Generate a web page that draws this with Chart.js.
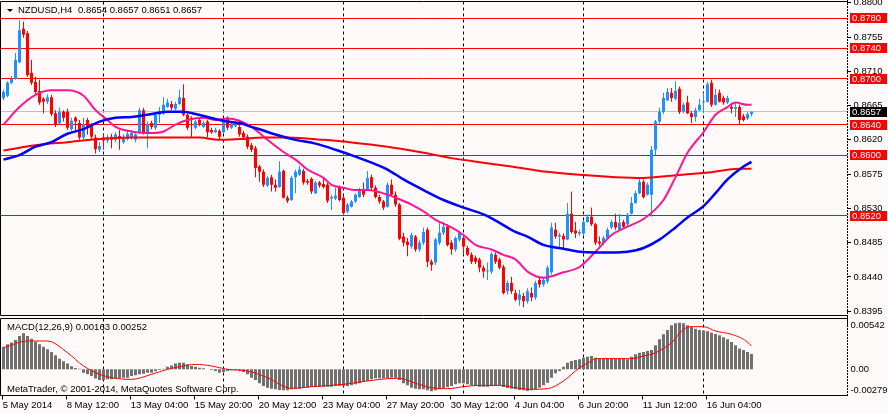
<!DOCTYPE html>
<html>
<head>
<meta charset="utf-8">
<script src="https://cdn.jsdelivr.net/npm/chart.js@4.4.1/dist/chart.umd.min.js"></script>
<style>
  html, body { margin: 0; padding: 0; background: #fffafa; overflow: hidden; }
  #wrap { position: relative; width: 888px; height: 414px; overflow: hidden; }
  canvas { position: absolute; left: 0; }
  #price { top: -10px; }
  #macd { top: 306px; }
</style>
</head>
<body>
<div id="wrap">
  <canvas id="price" width="888" height="336"></canvas>
  <canvas id="macd" width="888" height="108"></canvas>
</div>
<script>
// NZDUSD H4 candles, one entry per bar (bar 0 = 5 May 20:00)
var open = [
0.8675,0.8678,0.8695,0.8700,0.8722,0.8766,0.8760,0.8708,0.8696,0.8684,
0.8674,0.8670,0.8676,0.8655,0.8642,0.8657,0.8657,0.8634,0.8649,0.8642,
0.8623,0.8646,0.8640,0.8623,0.8607,0.8623,0.8619,0.8624,0.8620,0.8625,
0.8617,0.8621,0.8623,0.8620,0.8629,0.8659,0.8629,0.8642,0.8636,0.8653,
0.8655,0.8663,0.8667,0.8661,0.8667,0.8675,0.8653,0.8649,0.8636,0.8646,
0.8637,0.8644,0.8633,0.8630,0.8632,0.8630,0.8649,0.8636,0.8638,0.8637,
0.8629,0.8624,0.8613,0.8609,0.8585,0.8578,0.8560,0.8571,0.8561,0.8558,
0.8579,0.8544,0.8541,0.8571,0.8574,0.8579,0.8566,0.8569,0.8550,0.8564,
0.8562,0.8561,0.8543,0.8543,0.8557,0.8544,0.8526,0.8532,0.8539,0.8545,
0.8554,0.8554,0.8571,0.8557,0.8545,0.8539,0.8532,0.8561,0.8548,0.8535,
0.8493,0.8486,0.8480,0.8493,0.8476,0.8485,0.8502,0.8460,0.8459,0.8485,
0.8498,0.8506,0.8485,0.8476,0.8489,0.8491,0.8478,0.8469,0.8465,0.8463,
0.8452,0.8447,0.8447,0.8469,0.8463,0.8453,0.8421,0.8432,0.8419,0.8410,
0.8415,0.8408,0.8419,0.8413,0.8436,0.8430,0.8434,0.8446,0.8502,0.8493,
0.8494,0.8489,0.8523,0.8501,0.8497,0.8497,0.8512,0.8519,0.8509,0.8486,
0.8485,0.8491,0.8505,0.8512,0.8502,0.8512,0.8509,0.8523,0.8537,0.8550,
0.8565,0.8548,0.8548,0.8607,0.8644,0.8657,0.8672,0.8682,0.8674,0.8687,
0.8657,0.8669,0.8655,0.8650,0.8659,0.8669,0.8670,0.8695,0.8666,0.8682,
0.8675,0.8669,0.8663,0.8661,0.8663,0.8651,0.8648,0.8654];
var high = [
0.8686,0.8697,0.8704,0.8734,0.8777,0.8775,0.8763,0.8725,0.8703,0.8699,
0.8676,0.8680,0.8679,0.8659,0.8662,0.8659,0.8661,0.8649,0.8651,0.8646,
0.8649,0.8649,0.8642,0.8627,0.8617,0.8629,0.8627,0.8628,0.8630,0.8633,
0.8627,0.8632,0.8633,0.8630,0.8662,0.8662,0.8644,0.8645,0.8655,0.8663,
0.8676,0.8674,0.8671,0.8670,0.8686,0.8693,0.8655,0.8651,0.8646,0.8649,
0.8645,0.8646,0.8636,0.8636,0.8634,0.8646,0.8651,0.8642,0.8645,0.8640,
0.8632,0.8627,0.8616,0.8612,0.8587,0.8581,0.8573,0.8574,0.8568,0.8592,
0.8581,0.8547,0.8573,0.8581,0.8586,0.8582,0.8569,0.8571,0.8566,0.8566,
0.8570,0.8564,0.8548,0.8557,0.8560,0.8547,0.8537,0.8541,0.8550,0.8557,
0.8564,0.8579,0.8574,0.8560,0.8548,0.8541,0.8564,0.8568,0.8552,0.8537,
0.8498,0.8491,0.8498,0.8495,0.8488,0.8505,0.8505,0.8463,0.8491,0.8511,
0.8512,0.8509,0.8488,0.8493,0.8499,0.8494,0.8481,0.8472,0.8468,0.8465,
0.8455,0.8459,0.8473,0.8472,0.8465,0.8456,0.8435,0.8440,0.8423,0.8423,
0.8419,0.8425,0.8426,0.8435,0.8439,0.8440,0.8455,0.8511,0.8511,0.8498,
0.8497,0.8537,0.8552,0.8512,0.8502,0.8515,0.8522,0.8531,0.8511,0.8493,
0.8494,0.8505,0.8515,0.8523,0.8523,0.8515,0.8524,0.8545,0.8553,0.8571,
0.8568,0.8564,0.8612,0.8646,0.8662,0.8682,0.8688,0.8688,0.8697,0.8690,
0.8669,0.8678,0.8658,0.8662,0.8674,0.8682,0.8696,0.8699,0.8687,0.8686,
0.8678,0.8678,0.8669,0.8669,0.8666,0.8654,0.8657,0.8657];
var low = [
0.8672,0.8676,0.8693,0.8699,0.8721,0.8754,0.8703,0.8692,0.8680,0.8666,
0.8655,0.8667,0.8651,0.8637,0.8640,0.8644,0.8633,0.8632,0.8630,0.8620,
0.8621,0.8627,0.8621,0.8602,0.8604,0.8607,0.8616,0.8609,0.8617,0.8607,
0.8615,0.8619,0.8620,0.8617,0.8628,0.8627,0.8609,0.8634,0.8633,0.8642,
0.8653,0.8662,0.8659,0.8659,0.8666,0.8651,0.8633,0.8623,0.8634,0.8638,
0.8636,0.8623,0.8628,0.8629,0.8621,0.8628,0.8633,0.8634,0.8637,0.8624,
0.8620,0.8608,0.8604,0.8571,0.8565,0.8558,0.8558,0.8552,0.8552,0.8557,
0.8543,0.8537,0.8540,0.8550,0.8573,0.8561,0.8561,0.8549,0.8549,0.8557,
0.8556,0.8537,0.8528,0.8541,0.8539,0.8522,0.8524,0.8531,0.8537,0.8544,
0.8545,0.8553,0.8554,0.8543,0.8536,0.8528,0.8531,0.8545,0.8532,0.8488,
0.8480,0.8467,0.8477,0.8473,0.8473,0.8482,0.8453,0.8448,0.8456,0.8482,
0.8495,0.8480,0.8469,0.8473,0.8486,0.8469,0.8467,0.8457,0.8457,0.8446,
0.8439,0.8436,0.8444,0.8457,0.8450,0.8417,0.8417,0.8418,0.8408,0.8402,
0.8400,0.8405,0.8408,0.8410,0.8426,0.8427,0.8431,0.8443,0.8490,0.8477,
0.8478,0.8488,0.8497,0.8491,0.8494,0.8495,0.8511,0.8507,0.8482,0.8481,
0.8482,0.8490,0.8503,0.8502,0.8501,0.8503,0.8507,0.8522,0.8536,0.8549,
0.8543,0.8547,0.8519,0.8600,0.8641,0.8654,0.8671,0.8670,0.8672,0.8654,
0.8655,0.8654,0.8642,0.8644,0.8658,0.8655,0.8669,0.8663,0.8665,0.8669,
0.8666,0.8667,0.8655,0.8650,0.8640,0.8644,0.8646,0.8651];
var close = [
0.8683,0.8695,0.8700,0.8725,0.8764,0.8758,0.8705,0.8695,0.8683,0.8669,
0.8670,0.8676,0.8654,0.8640,0.8657,0.8649,0.8636,0.8645,0.8644,0.8623,
0.8640,0.8636,0.8624,0.8608,0.8612,0.8619,0.8623,0.8620,0.8627,0.8621,
0.8624,0.8628,0.8629,0.8627,0.8659,0.8629,0.8640,0.8637,0.8653,0.8657,
0.8666,0.8669,0.8662,0.8667,0.8676,0.8653,0.8636,0.8646,0.8644,0.8641,
0.8642,0.8630,0.8630,0.8633,0.8624,0.8644,0.8636,0.8640,0.8642,0.8627,
0.8623,0.8611,0.8607,0.8583,0.8578,0.8561,0.8570,0.8561,0.8557,0.8578,
0.8544,0.8540,0.8570,0.8578,0.8581,0.8564,0.8564,0.8552,0.8564,0.8560,
0.8558,0.8540,0.8545,0.8547,0.8541,0.8524,0.8535,0.8539,0.8548,0.8554,
0.8548,0.8570,0.8557,0.8545,0.8539,0.8531,0.8561,0.8548,0.8535,0.8490,
0.8485,0.8482,0.8495,0.8476,0.8485,0.8499,0.8460,0.8456,0.8489,0.8498,
0.8506,0.8482,0.8476,0.8491,0.8498,0.8480,0.8469,0.8460,0.8460,0.8452,
0.8447,0.8448,0.8470,0.8460,0.8452,0.8419,0.8432,0.8421,0.8410,0.8417,
0.8408,0.8421,0.8413,0.8432,0.8430,0.8436,0.8452,0.8505,0.8493,0.8495,
0.8489,0.8523,0.8499,0.8497,0.8499,0.8512,0.8519,0.8509,0.8485,0.8484,
0.8491,0.8502,0.8512,0.8505,0.8511,0.8506,0.8522,0.8537,0.8550,0.8565,
0.8545,0.8561,0.8607,0.8644,0.8657,0.8675,0.8683,0.8675,0.8684,0.8657,
0.8666,0.8655,0.8650,0.8659,0.8666,0.8670,0.8693,0.8666,0.8679,0.8670,
0.8669,0.8675,0.8661,0.8663,0.8646,0.8646,0.8654,0.8657];

// moving averages, read at the listed bars
var maFastBars = [0,4,8,12,16,20,23,26,28,32,37,40,43,46,50,53,56,59,62,64,66,70,73,76,80,82,85,88,91,96,98,102,105,108,112,115,118,122,125,128,131,135,140,144,148,152,156,160,165,168,171,175,178,181,183,186,187];
var maFast = [0.8640,0.8663,0.8679,0.8685,0.8685,0.8678,0.8659,0.8646,0.8637,0.8631,0.8629,0.8631,0.8640,0.8646,0.8649,0.8646,0.8648,0.8645,0.8637,0.8629,0.8620,0.8604,0.8594,0.8581,0.8570,0.8561,0.8557,0.8554,0.8554,0.8548,0.8544,0.8535,0.8526,0.8515,0.8505,0.8495,0.8482,0.8476,0.8469,0.8463,0.8447,0.8439,0.8446,0.8453,0.8473,0.8495,0.8506,0.8516,0.8541,0.8571,0.8603,0.8630,0.8653,0.8663,0.8669,0.8666,0.8666];
var maMidBars = [0,4,8,12,16,20,24,28,32,36,41,45,48,51,54,56,59,62,64,68,73,78,83,88,92,96,100,105,110,115,120,124,128,131,135,140,144,148,152,156,160,164,168,171,175,178,181,185,187];
var maMid = [0.8594,0.8600,0.8611,0.8617,0.8628,0.8634,0.8644,0.8649,0.8650,0.8653,0.8657,0.8657,0.8654,0.8650,0.8646,0.8644,0.8642,0.8637,0.8634,0.8627,0.8620,0.8615,0.8607,0.8598,0.8590,0.8581,0.8568,0.8554,0.8541,0.8531,0.8522,0.8511,0.8499,0.8493,0.8482,0.8477,0.8473,0.8472,0.8472,0.8473,0.8478,0.8489,0.8505,0.8518,0.8533,0.8550,0.8568,0.8585,0.8591];
var maSlowBars = [0,8,16,24,32,40,49,54,59,65,71,80,88,96,104,112,120,127,136,144,153,160,167,176,184,187];
var maSlow = [0.8606,0.8613,0.8617,0.8621,0.8623,0.8623,0.8623,0.8620,0.8621,0.8623,0.8623,0.8620,0.8616,0.8611,0.8604,0.8596,0.8590,0.8585,0.8578,0.8574,0.8571,0.8570,0.8573,0.8577,0.8582,0.8582];

// MACD(12,26,9) histogram per bar and signal line read at the listed bars
var macdHist = [
0.00242,0.00267,0.00285,0.00312,0.00356,0.00384,0.00356,0.00327,0.00295,0.00267,
0.00242,0.00213,0.00185,0.00149,0.00114,0.00085,0.00061,0.00032,0.00014,0.00007,
-0.00036,-0.00053,-0.00071,-0.00099,-0.00114,-0.00114,-0.00107,-0.00107,-0.00099,-0.00096,
-0.00089,-0.00089,-0.00071,-0.00064,-0.00053,-0.00046,-0.00036,-0.00036,-0.00021,-0.00007,
0.00007,0.00028,0.00042,0.00061,0.00071,0.00071,0.00053,0.00036,0.00028,0.00017,
0.00011,0.00002,-0.00007,-0.00017,-0.00036,-0.00028,-0.00017,-0.00011,-0.00011,-0.00017,
-0.00028,-0.00053,-0.00089,-0.00114,-0.00149,-0.00177,-0.00196,-0.00206,-0.00213,-0.00221,
-0.00224,-0.00224,-0.00213,-0.00206,-0.00206,-0.00196,-0.00196,-0.00188,-0.00188,-0.00185,
-0.00185,-0.00185,-0.00185,-0.00177,-0.00177,-0.00177,-0.00177,-0.00171,-0.00160,-0.00149,
-0.00135,-0.00124,-0.00107,-0.00096,-0.00096,-0.00096,-0.00096,-0.00089,-0.00089,-0.00114,
-0.00149,-0.00171,-0.00196,-0.00206,-0.00213,-0.00213,-0.00224,-0.00234,-0.00224,-0.00213,
-0.00199,-0.00192,-0.00177,-0.00160,-0.00149,-0.00149,-0.00160,-0.00171,-0.00177,-0.00185,
-0.00185,-0.00185,-0.00177,-0.00177,-0.00171,-0.00188,-0.00199,-0.00206,-0.00213,-0.00221,
-0.00224,-0.00231,-0.00224,-0.00213,-0.00196,-0.00171,-0.00142,-0.00089,-0.00042,-0.00017,
0.00028,0.00071,0.00089,0.00099,0.00107,0.00124,0.00135,0.00142,0.00124,0.00114,
0.00114,0.00114,0.00114,0.00114,0.00114,0.00114,0.00107,0.00135,0.00160,0.00177,
0.00185,0.00196,0.00206,0.00256,0.00320,0.00373,0.00419,0.00470,0.00491,0.00498,
0.00491,0.00470,0.00455,0.00434,0.00419,0.00413,0.00405,0.00391,0.00377,0.00363,
0.00341,0.00320,0.00291,0.00256,0.00221,0.00206,0.00185,0.00163];
var signalBars = [0,6,11,16,20,24,27,32,37,41,44,48,52,56,61,66,72,77,85,91,96,99,103,107,111,115,119,124,128,132,136,140,144,147,148,157,160,163,167,170,172,175,178,182,185,187];
var signal = [0.00231,0.00302,0.00302,0.00177,0.00036,-0.00053,-0.00089,-0.00107,-0.00053,0,0.00028,0.00053,0.00036,0,-0.00017,-0.00089,-0.00203,-0.00185,-0.0016,-0.00124,-0.00099,-0.00096,-0.00149,-0.00196,-0.00206,-0.00185,-0.00171,-0.00171,-0.00196,-0.00213,-0.00206,-0.00124,0.00017,0.00089,0.00114,0.00114,0.00142,0.00177,0.00285,0.00426,0.00455,0.00455,0.00409,0.00373,0.0032,0.00252];

// axes and marked levels
var timeLabels = ['5 May 2014', '8 May 12:00', '13 May 04:00', '15 May 20:00', '20 May 12:00', '23 May 04:00',
                  '27 May 20:00', '30 May 12:00', '4 Jun 04:00', '6 Jun 20:00', '11 Jun 12:00', '16 Jun 04:00'];
var timeLabelBars = [0, 16, 32, 48, 64, 80, 96, 112, 128, 144, 160, 176];
var weekBars = [25, 55, 85, 115, 145, 175];
var priceTicks = [0.8395, 0.8440, 0.8485, 0.8530, 0.8575, 0.8620, 0.8665, 0.8710, 0.8755, 0.8800];
var levels = [0.8780, 0.8740, 0.8700, 0.8640, 0.8600, 0.8520];
var bid = 0.8657;
var macdTicks = [0.00542, 0, -0.00279];
var macdTickLabels = ['0.00542', '0.00', '-0.00279'];

var FONT = "'Liberation Sans', Arial, sans-serif";
var upColor = '#1e90ff';
var downColor = '#ff0000';
var xMin = -0.875, xMax = 210.875;

var candleColors = close.map(function (c, i) { return c >= open[i] ? upColor : downColor; });
var wickData = low.map(function (l, i) { return { x: i, y: [l, high[i]] }; });
var bodyData = open.map(function (o, i) { return { x: i, y: [Math.min(o, close[i]), Math.max(o, close[i])] }; });
function pts(bars, vals) {
    return bars.map(function (b, k) { return { x: b, y: vals[k] }; });
}
function crisp(v) { return Math.round(v - 0.5) + 0.5; }
function setTicks(list) {
    return function (scale) { scale.ticks = list.map(function (v) { return { value: v }; }); };
}

var pricePlugin = {
    id: 'pricePlugin',
    beforeDatasetsDraw: function (chart) {
        var ctx = chart.ctx, y = chart.scales.y, a = chart.chartArea;
        ctx.save();
        ctx.lineWidth = 1;
        ctx.strokeStyle = '#c0c0c0';
        var py = crisp(y.getPixelForValue(bid));
        ctx.beginPath(); ctx.moveTo(a.left, py); ctx.lineTo(a.right, py); ctx.stroke();
        ctx.strokeStyle = '#ff0000';
        levels.forEach(function (v) {
            var ly = crisp(y.getPixelForValue(v));
            ctx.beginPath(); ctx.moveTo(a.left, ly); ctx.lineTo(a.right, ly); ctx.stroke();
        });
        ctx.restore();
    },
    afterDraw: function (chart) {
        var ctx = chart.ctx, y = chart.scales.y, a = chart.chartArea;
        ctx.save();
        // frame
        ctx.strokeStyle = '#000';
        ctx.lineWidth = 1;
        ctx.beginPath();
        ctx.moveTo(0.5, a.bottom); ctx.lineTo(0.5, a.top); ctx.lineTo(a.right, a.top);
        ctx.moveTo(0.5, a.bottom); ctx.lineTo(a.right, a.bottom);
        ctx.stroke();
        ctx.setLineDash([2, 1]);
        ctx.beginPath(); ctx.moveTo(a.right + 0.5, 10); ctx.lineTo(a.right + 0.5, 336); ctx.stroke();
        ctx.setLineDash([]);
        // price boxes on the axis
        ctx.font = '9.5px ' + FONT;
        ctx.textBaseline = 'middle';
        var boxes = levels.map(function (v) { return [v, '#ff0000']; });
        boxes.push([bid, '#000000']);
        boxes.forEach(function (b) {
            var by = Math.round(y.getPixelForValue(b[0]));
            ctx.fillStyle = b[1];
            ctx.fillRect(850, by - 5, 37, 10);
            ctx.fillStyle = '#ffffff';
            ctx.fillText(b[0].toFixed(4), 852, by);
        });
        // title
        ctx.fillStyle = '#000';
        ctx.beginPath(); ctx.moveTo(7, 19); ctx.lineTo(13, 19); ctx.lineTo(10, 22); ctx.closePath(); ctx.fill();
        ctx.fillText('NZDUSD,H4', 18, 20.5);
        ctx.fillText(open[open.length - 1].toFixed(4) + ' ' + high[high.length - 1].toFixed(4) + ' ' +
                     low[low.length - 1].toFixed(4) + ' ' + close[close.length - 1].toFixed(4), 78, 20.5);
        ctx.restore();
    }
};

var macdPlugin = {
    id: 'macdPlugin',
    afterDraw: function (chart) {
        var ctx = chart.ctx, y = chart.scales.y, a = chart.chartArea;
        ctx.save();
        ctx.strokeStyle = '#000';
        ctx.lineWidth = 1;
        ctx.beginPath();
        ctx.moveTo(0.5, a.bottom); ctx.lineTo(0.5, a.top); ctx.lineTo(a.right, a.top);
        ctx.moveTo(0.5, a.bottom); ctx.lineTo(a.right, a.bottom);
        ctx.stroke();
        ctx.setLineDash([2, 1]);
        ctx.beginPath(); ctx.moveTo(a.right + 0.5, 10); ctx.lineTo(a.right + 0.5, a.bottom + 1); ctx.stroke();
        ctx.setLineDash([]);
        ctx.font = '9.5px ' + FONT;
        ctx.textBaseline = 'middle';
        ctx.fillStyle = '#000';
        var ly = [a.top + 7, y.getPixelForValue(0), a.bottom - 5.5];
        macdTicks.forEach(function (v, k) {
            ctx.fillText(macdTickLabels[k], 850.5, ly[k], 37);
        });
        ctx.fillText('MACD(12,26,9) ' + macdHist[macdHist.length - 1].toFixed(5) + ' ' +
                     signal[signal.length - 1].toFixed(5), 7, a.top + 9);
        ctx.fillText('MetaTrader, \u00a9 2001-2014, MetaQuotes Software Corp.', 7, a.bottom - 6.5);
        ctx.restore();
    }
};

Chart.defaults.font.family = FONT;
Chart.defaults.font.size = 9.5;
Chart.defaults.color = '#000';

var priceChart = new Chart(document.getElementById('price'), {
    type: 'bar',
    data: {
        datasets: [
            { type: 'bar', data: wickData, backgroundColor: candleColors, barThickness: 1, grouped: false,
              inflateAmount: 0, borderWidth: 0, order: 3 },
            { type: 'bar', data: bodyData, backgroundColor: candleColors, barThickness: 3, grouped: false,
              minBarLength: 1, inflateAmount: 0, borderWidth: 0, order: 2 },
            { type: 'line', data: pts(maSlowBars, maSlow), borderColor: '#ff0000', borderWidth: 2,
              pointRadius: 0, cubicInterpolationMode: 'monotone', order: 1 },
            { type: 'line', data: pts(maMidBars, maMid), borderColor: '#0000ff', borderWidth: 2.5,
              pointRadius: 0, cubicInterpolationMode: 'monotone', order: 0 },
            { type: 'line', data: pts(maFastBars, maFast), borderColor: '#ff1493', borderWidth: 2,
              pointRadius: 0, cubicInterpolationMode: 'monotone', order: 0 }
        ]
    },
    options: {
        responsive: false, animation: false, events: [], devicePixelRatio: 1,
        layout: { padding: { left: 0, right: 0, top: 11.5, bottom: 10.5 } },
        plugins: { legend: { display: false }, tooltip: { enabled: false } },
        scales: {
            x: {
                type: 'linear', min: xMin, max: xMax, offset: false,
                afterBuildTicks: setTicks(weekBars),
                afterFit: function (s) { s.height = 0; },
                ticks: { display: false },
                grid: { color: '#000', lineWidth: 1, drawTicks: false, offset: false },
                border: { display: false, dash: [3, 3] }
            },
            y: {
                type: 'linear', position: 'right', min: 0.83893, max: 0.88017,
                afterFit: function (s) { s.width = 41; },
                afterBuildTicks: setTicks(priceTicks),
                ticks: { callback: function (v) { return v.toFixed(4); }, padding: 2.5, color: '#000' },
                grid: { drawOnChartArea: false, tickLength: 4, tickColor: '#000' },
                border: { display: false }
            }
        }
    },
    plugins: [pricePlugin]
});

var macdChart = new Chart(document.getElementById('macd'), {
    type: 'bar',
    data: {
        datasets: [
            { type: 'bar', xAxisID: 'x', data: macdHist.map(function (v, i) { return { x: i, y: v }; }),
              backgroundColor: '#707070', barThickness: 3, grouped: false, inflateAmount: 0, borderWidth: 0, order: 2 },
            { type: 'line', xAxisID: 'x', data: pts(signalBars, signal), borderColor: '#ff0000', borderWidth: 1,
              pointRadius: 0, cubicInterpolationMode: 'monotone', order: 1 }
        ]
    },
    options: {
        responsive: false, animation: false, events: [], devicePixelRatio: 1,
        layout: { padding: { left: 0, right: 0, top: 12.5, bottom: 0 } },
        plugins: { legend: { display: false }, tooltip: { enabled: false } },
        scales: {
            x: {
                type: 'linear', position: 'bottom', min: xMin, max: xMax, offset: false,
                afterBuildTicks: setTicks(timeLabelBars.map(function (b) { return b - 0.2; })),
                afterFit: function (s) { s.height = 18.5; },
                ticks: {
                    callback: function (v, i) { return timeLabels[i]; },
                    autoSkip: false, maxRotation: 0, minRotation: 0, align: 'start', padding: 0.5, color: '#000'
                },
                grid: { drawOnChartArea: false, tickLength: 4, tickColor: '#000', offset: false },
                border: { display: false }
            },
            xw: {
                type: 'linear', position: 'bottom', min: xMin, max: xMax, offset: false,
                afterBuildTicks: setTicks(weekBars),
                afterFit: function (s) { s.height = 0; },
                ticks: { display: false },
                grid: { color: '#000', lineWidth: 1, drawTicks: false, offset: false },
                border: { display: false, dash: [3, 3] }
            },
            y: {
                type: 'linear', position: 'right', min: -0.00279, max: 0.00542,
                afterFit: function (s) { s.width = 41; },
                ticks: { display: false },
                grid: { display: false },
                border: { display: false }
            }
        }
    },
    plugins: [macdPlugin]
});
</script>
</body>
</html>
